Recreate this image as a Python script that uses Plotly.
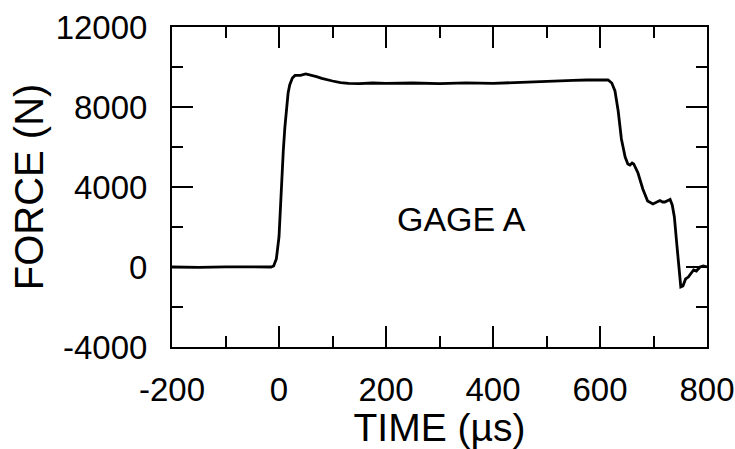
import plotly.graph_objects as go

time_us = [-200, -150, -100, -50, -15, -10, -5, 0, 2, 5, 8, 11, 14, 17, 20, 25, 30, 40, 50, 55, 60,
           70, 80, 90, 100, 115, 130, 150, 175, 200, 250, 300, 350, 400, 450, 500, 550, 575, 600,
           615, 622, 628, 634, 640, 647, 652, 656, 660, 663, 671, 680, 689, 699, 706, 712, 717, 721,
           727, 731, 735, 739, 743, 747, 751, 755, 760, 765, 770, 775, 780, 787, 793, 800]
force_n = [0, -20, 10, -10, 0, 50, 400, 1500, 2800, 4200, 5800, 7000, 8000, 8700, 9100, 9450, 9580,
           9580, 9650, 9620, 9560, 9520, 9430, 9350, 9300, 9220, 9180, 9170, 9200, 9180, 9200, 9170,
           9210, 9180, 9240, 9280, 9330, 9350, 9330, 9350, 9200, 8800, 7800, 6400, 5500, 5150, 5100,
           5200, 5150, 4700, 3900, 3300, 3150, 3250, 3320, 3250, 3250, 3330, 3380, 3100, 2500, 1300,
           200, -1000, -950, -600, -500, -350, -150, -200, 0, 50, 0]

x_ticks = [-200, 0, 200, 400, 600, 800]
y_ticks = [-4000, 0, 4000, 8000, 12000]

font = "Liberation Sans, Arial, sans-serif"

fig = go.Figure()
fig.add_trace(go.Scatter(x=time_us, y=force_n, mode="lines",
                         line=dict(color="black", width=2.8), showlegend=False))

fig.add_annotation(x=342, y=2400, text="GAGE A", showarrow=False,
                   font=dict(family=font, size=34, color="black"))

axis_common = dict(showgrid=False, zeroline=False, showline=True, linecolor="black", linewidth=2,
                   mirror="allticks", ticks="inside", ticklen=21, tickwidth=1.5, tickcolor="black",
                   automargin=False,
                   tickfont=dict(family=font, size=33, color="black"))

fig.update_xaxes(range=[-200, 800], tickvals=x_ticks, ticktext=[str(v) for v in x_ticks],
                 ticklabelstandoff=12,
                 minor=dict(ticks="inside", dtick=100, tick0=0, ticklen=11, tickwidth=1.5, tickcolor="black"),
                 title=dict(text="TIME (µs)", font=dict(family=font, size=39, color="black"), standoff=0),
                 **axis_common)
fig.update_yaxes(range=[-4000, 12000], tickvals=y_ticks, ticktext=[str(v) for v in y_ticks],
                 ticklabelstandoff=16,
                 minor=dict(ticks="inside", dtick=2000, tick0=0, ticklen=11, tickwidth=1.5, tickcolor="black"),
                 title=dict(text="FORCE (N)", font=dict(family=font, size=40, color="black"), standoff=0),
                 **axis_common)

fig.update_layout(width=735, height=449, margin=dict(l=172, r=28, t=27, b=102),
                  plot_bgcolor="white", paper_bgcolor="white")

fig.write_html("out.html")
